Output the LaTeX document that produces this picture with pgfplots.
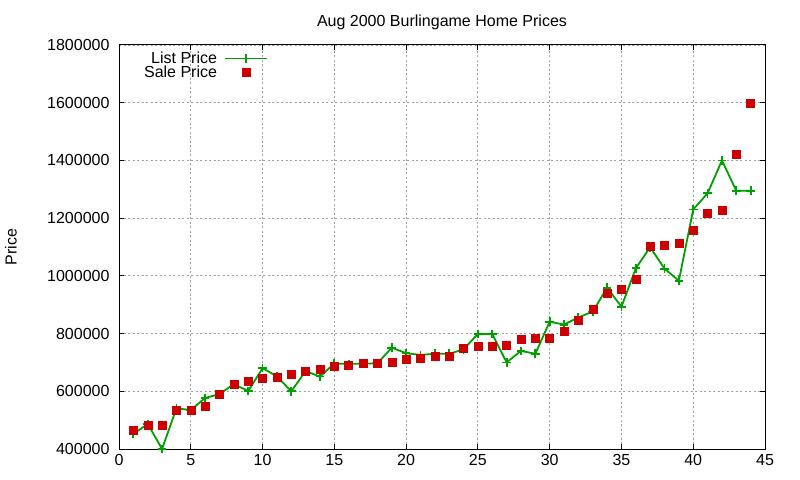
\documentclass[border=0pt]{standalone}
\usepackage{fontspec}
\setmainfont{Liberation Sans}
\usepackage{pgfplots}
\pgfplotsset{compat=1.18}
\definecolor{listgreen}{HTML}{00A000}
\definecolor{salered}{HTML}{CC0000}
\definecolor{gridgray}{HTML}{A0A0A0}
\newcommand{\gfont}{\fontsize{16bp}{18bp}\selectfont}
\begin{document}
\begin{tikzpicture}
\useasboundingbox (0,0) rectangle (800bp,480bp);
\begin{axis}[
    at={(119bp,31bp)}, anchor=south west,
    scale only axis, width=646bp, height=404bp,
    xmin=0, xmax=45, ymin=400000, ymax=1800000,
    xtick={0,5,...,45},
    ytick={400000,600000,...,1800000},
    scaled y ticks=false,
    /pgf/number format/assume math mode=true,
    y tick label style={/pgf/number format/fixed, /pgf/number format/precision=0,
        /pgf/number format/1000 sep={}},
    tick label style={font=\gfont},
    xticklabel style={yshift=-2bp},
    yticklabel style={xshift=-6bp},
    tick align=inside, major tick length=5bp,
    tick style={black, line width=1bp},
    axis line style={line width=1bp},
    grid=major,
    major grid style={gridgray, line width=0.8bp, dash pattern=on 2bp off 2.5bp},
    title={Aug 2000 Burlingame Home Prices},
    title style={font=\gfont, at={(axis description cs:0.5,1)}, anchor=south, yshift=6bp},
    ylabel={Price},
    ylabel style={font=\gfont, at={(axis description cs:0,0.5)}, anchor=center, yshift=108bp},
    legend style={draw=none, fill=none, font=\gfont, at={(rel axis cs:0.2307,0.988)}, anchor=north east,
        inner sep=0pt, row sep=-3bp, column sep=5bp, legend cell align=right},
    legend plot pos=right,
    legend image code/.code={
        \draw[mark repeat=2, mark phase=2, #1] plot coordinates {(0bp,0bp) (21bp,0bp) (42bp,0bp)};
    },
]
\addplot[listgreen, line width=1.8bp, mark=+, mark size=4.3bp] coordinates {
(1,452000) (2,487000) (3,400000) (4,541000) (5,535000) (6,577000) (7,590000)
(8,625000) (9,601000) (10,680000) (11,652000) (12,600000) (13,670000) (14,651000)
(15,696000) (16,695000) (17,696000) (18,697000) (19,751000) (20,732000) (21,726000)
(22,730000) (23,730000) (24,745000) (25,799000) (26,799000) (27,700000) (28,740000)
(29,730000) (30,841000) (31,831000) (32,856000) (33,876000) (34,959000) (35,893000)
(36,1026000) (37,1099000) (38,1025000) (39,983000) (40,1230000) (41,1286000)
(42,1400000) (43,1295000) (44,1295000)
};
\addlegendentry{List Price}
\addplot[only marks, salered, mark=square*, mark size=4bp, mark options={draw=none, fill=salered}] coordinates {
(1,466000) (2,481000) (3,484000) (4,533000) (5,536000) (6,550000) (7,591000)
(8,626000) (9,636000) (10,647000) (11,650000) (12,660000) (13,671000) (14,675000)
(15,686000) (16,690000) (17,698000) (18,698000) (19,702000) (20,710000) (21,716000)
(22,720000) (23,720000) (24,751000) (25,755000) (26,755000) (27,758000) (28,779000)
(29,785000) (30,785000) (31,807000) (32,845000) (33,885000) (34,940000) (35,954000)
(36,990000) (37,1102000) (38,1105000) (39,1112000) (40,1157000) (41,1216000)
(42,1226000) (43,1420000) (44,1600000)
};
\addlegendentry{Sale Price}
\end{axis}
\end{tikzpicture}
\end{document}
